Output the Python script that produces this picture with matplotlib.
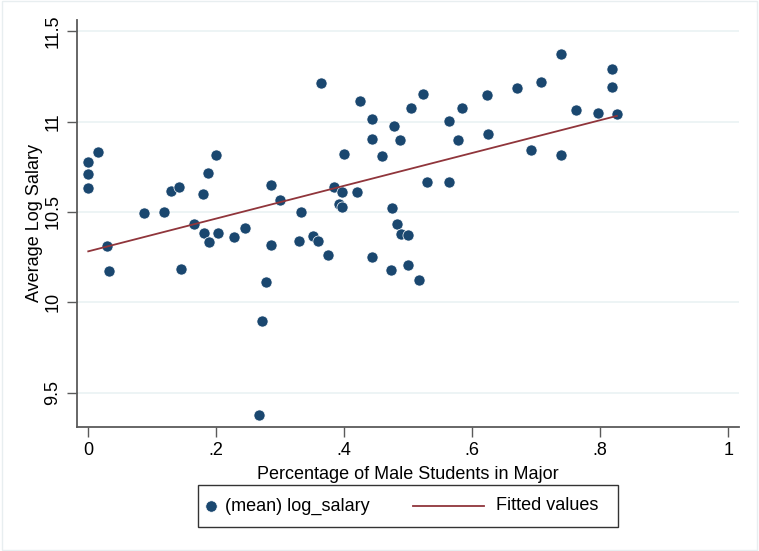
import matplotlib
matplotlib.use("Agg")
import matplotlib.pyplot as plt
from matplotlib.lines import Line2D
from matplotlib.patches import Rectangle

plt.rcParams['font.family'] = ['Liberation Sans', 'DejaVu Sans']

male_share = [0.000, 0.016, 0.000, 0.000, 0.030, 0.032, 0.087, 0.118, 0.130, 0.142,
              0.145, 0.166, 0.179, 0.187, 0.199, 0.181, 0.189, 0.203, 0.228, 0.245,
              0.271, 0.266, 0.277, 0.285, 0.285, 0.299, 0.332, 0.329, 0.351, 0.359,
              0.363, 0.374, 0.384, 0.392, 0.396, 0.396, 0.400, 0.420, 0.424, 0.444,
              0.444, 0.444, 0.459, 0.477, 0.475, 0.473, 0.482, 0.487, 0.489, 0.499,
              0.499, 0.504, 0.516, 0.523, 0.529, 0.564, 0.564, 0.577, 0.584, 0.623,
              0.624, 0.670, 0.691, 0.708, 0.739, 0.738, 0.762, 0.797, 0.818, 0.818,
              0.826]
log_salary = [10.775, 10.831, 10.710, 10.631, 10.313, 10.172, 10.496, 10.502, 10.618, 10.637,
              10.186, 10.432, 10.600, 10.714, 10.817, 10.382, 10.332, 10.382, 10.363, 10.410,
              9.896, 9.378, 10.112, 10.648, 10.319, 10.566, 10.500, 10.338, 10.367, 10.339,
              11.214, 10.264, 10.638, 10.544, 10.529, 10.609, 10.823, 10.612, 11.116, 11.017,
              10.906, 10.252, 10.808, 10.976, 10.520, 10.177, 10.435, 10.899, 10.378, 10.371,
              10.208, 11.078, 10.122, 11.152, 10.666, 11.004, 10.668, 10.897, 11.074, 11.148,
              10.930, 11.188, 10.842, 11.218, 11.375, 10.816, 11.063, 11.050, 11.292, 11.192,
              11.044]
fit_x = [0.0, 0.826]
fit_y = [10.282, 11.032]

x_ticks = [0, 0.2, 0.4, 0.6, 0.8, 1.0]
x_tick_labels = ['0', '.2', '.4', '.6', '.8', '1']
y_ticks = [9.5, 10, 10.5, 11, 11.5]
y_tick_labels = ['9.5', '10', '10.5', '11', '11.5']
legend_labels = ['(mean) log_salary', 'Fitted values']

navy = '#1a476f'
maroon = '#90353b'
grid_c = '#eaf2f3'
axis_c = '#5a5a5a'
FS = 13

fig = plt.figure(figsize=(7.59, 5.51), dpi=100)
ax = fig.add_axes([0.1011, 0.2256, 0.8725, 0.7381])

ax.set_xlim(-0.018, 1.0167)
ax.set_ylim(9.311, 11.563)

for yv in y_ticks:
    ax.axhline(yv, color=grid_c, lw=1.2, zorder=0)

ax.scatter(male_share, log_salary, s=64, color=navy, edgecolors='white',
           linewidths=0.5, zorder=3)
ax.plot(fit_x, fit_y, color=maroon, lw=1.3, zorder=4)

ax.set_xticks(x_ticks)
ax.set_xticklabels(x_tick_labels)
ax.set_yticks(y_ticks)
ax.set_yticklabels(y_tick_labels, rotation=90, va='center')

ax.tick_params(axis='both', direction='out', length=7, width=1, color=axis_c,
               labelsize=FS, pad=4)
for side in ['top', 'right']:
    ax.spines[side].set_visible(False)
for side in ['left', 'bottom']:
    ax.spines[side].set_color(axis_c)
    ax.spines[side].set_linewidth(1.3)

ax.set_xlabel('Percentage of Male Students in Major', fontsize=FS, labelpad=5)
ax.set_ylabel('Average Log Salary', fontsize=FS, labelpad=1)

# legend drawn in figure-pixel layout (Stata style)
W, H = 759.0, 551.0
def fx(px):
    return px / W
def fy(py):
    return 1 - py / H

box_top, box_bot = 485, 527
cy = (box_top + box_bot) / 2
fig.add_artist(Rectangle((fx(197.5), fy(box_bot)), fx(617.5) - fx(197.5),
                         fy(box_top) - fy(box_bot), transform=fig.transFigure,
                         fill=False, edgecolor='#333333', lw=1.0))
fig.add_artist(Line2D([fx(210.7)], [fy(cy)], marker='o', ls='none', color=navy,
                      markersize=8.2, markeredgecolor='white', markeredgewidth=0.5,
                      transform=fig.transFigure))
fig.text(fx(225), fy(cy), legend_labels[0], fontsize=FS, va='center', ha='left')
fig.add_artist(Line2D([fx(412.7), fx(484.3)], [fy(cy), fy(cy)], color=maroon, lw=1.3,
                      transform=fig.transFigure))
fig.text(fx(496), fy(cy), legend_labels[1], fontsize=FS, va='center', ha='left')

fig.add_artist(Rectangle((0.002, 0.002), 0.996, 0.996, transform=fig.transFigure,
                         fill=False, edgecolor='#e8eef0', lw=1))

fig.savefig('out.png', dpi=100)
